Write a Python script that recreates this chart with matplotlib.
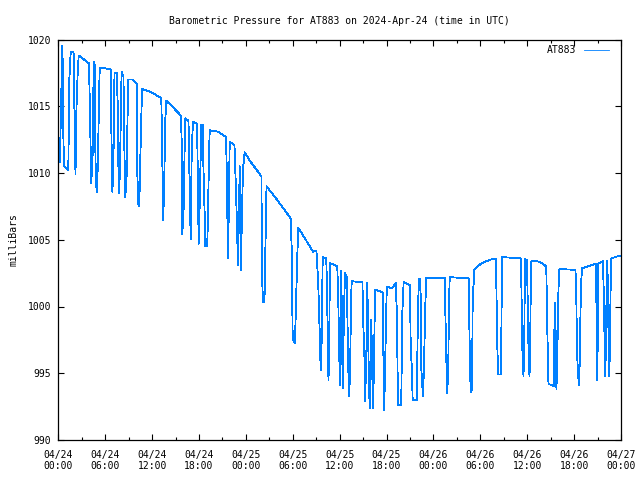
import matplotlib
matplotlib.use('Agg')
import matplotlib.pyplot as plt
from matplotlib.ticker import MultipleLocator, FixedLocator

# hours since 2024-04-24 00:00 UTC
hours = [
    0.22, 0.28, 0.43, 0.51, 0.60, 0.64, 0.73, 1.28, 1.32, 1.41, 1.59, 1.92,
    1.98, 2.07, 2.20, 2.30, 2.46, 2.61, 3.29, 3.93,
    4.00, 4.15, 4.22, 4.40, 4.48, 4.57, 4.64,
    4.75, 4.81, 4.95, 5.08, 5.21, 5.30, 5.97, 6.74,
    6.79, 6.91, 7.04, 7.10, 7.19, 7.47,
    7.60, 7.73, 7.89, 8.02, 8.10, 8.34,
    8.43, 8.57, 8.73, 8.83, 8.94, 9.52, 10.03,
    10.11, 10.24, 10.36, 10.49, 10.71, 11.73, 12.37, 13.18,
    13.31, 13.40, 13.52, 13.61, 13.69, 13.82, 14.55, 15.19, 15.70,
    15.79, 15.86, 16.04, 16.17, 16.25, 16.66,
    16.72, 16.94, 17.07, 17.23, 17.75,
    17.81, 17.96, 18.07, 18.22, 18.30, 18.47,
    18.54, 18.73, 18.81, 19.06, 19.15, 19.28, 19.37, 20.43, 21.46,
    21.55, 21.71, 21.80, 21.93, 22.54,
    22.65, 22.82, 22.99, 23.12, 23.21, 23.29, 23.35, 23.50, 23.63, 23.85, 24.53, 25.17, 25.87,
    26.00, 26.04, 26.19, 26.38, 26.45, 26.64, 27.73, 28.75, 29.73,
    29.86, 29.99, 30.28, 30.41, 30.58, 30.71, 31.56, 32.59, 33.03,
    33.26, 33.48, 33.57, 33.70, 33.78, 33.83, 34.29,
    34.38, 34.51, 34.57, 34.66, 34.72, 34.79, 35.70,
    35.82, 35.95, 36.04, 36.13, 36.21, 36.30, 36.39, 36.46, 36.59, 36.68, 36.90,
    36.97, 37.10, 37.23, 37.36, 37.45, 37.54, 38.92,
    38.98, 39.20, 39.24, 39.41, 39.47, 39.53,
    39.62, 39.71, 39.84, 39.92, 40.05, 40.17, 40.26, 40.39, 40.48, 40.56, 41.38, 41.54,
    41.59, 41.70, 41.80, 41.96, 42.03, 42.69, 43.17,
    43.33, 43.46, 43.88, 44.01, 44.19, 45.00,
    45.09, 45.25, 45.34, 45.85, 45.92, 46.02, 46.15, 46.34,
    46.44, 46.66, 46.79, 46.95, 47.08, 49.45,
    49.51, 49.67, 49.77, 49.90, 49.99, 50.08, 52.54,
    52.61, 52.76, 52.89, 52.97, 53.02, 53.25, 54.17, 55.23, 56.00,
    56.06, 56.17, 56.29, 56.60, 56.68, 56.74, 56.81, 59.20,
    59.26, 59.36, 59.52, 59.62, 59.71, 59.97, 60.03, 60.16, 60.29, 60.38, 60.45, 60.54, 61.63, 62.44,
    62.56, 62.72, 63.42, 63.51, 63.64, 63.74, 63.87, 64.00, 64.12, 66.17,
    66.27, 66.36, 66.49, 66.66, 66.75, 66.87, 67.00, 68.76,
    68.83, 68.90, 68.96, 69.05, 69.11, 69.69,
    69.78, 69.91, 69.98, 70.07, 70.16, 70.24, 70.33, 70.42, 70.50, 70.58, 70.67, 70.75, 71.23, 71.87,
]

mbar = [
    1010.85, 1013.0, 1017.3, 1019.5, 1017.3, 1013.0, 1010.5, 1010.2, 1012.5, 1017.0, 1019.1, 1019.1,
    1018.9, 1014.4, 1009.9, 1014.4, 1017.2, 1018.8, 1018.5, 1018.2,
    1016.1, 1011.5, 1009.25, 1011.5, 1016.1, 1018.35, 1018.3,
    1011.5, 1009.25, 1008.6, 1011.2, 1015.6, 1017.9, 1017.85, 1017.75,
    1013.2, 1008.6, 1010.1, 1013.2, 1017.5, 1017.5,
    1015.2, 1008.5, 1010.0, 1015.2, 1017.6, 1017.2,
    1012.6, 1008.2, 1009.5, 1013.0, 1017.0, 1017.0, 1016.7,
    1010.0, 1007.7, 1007.5, 1011.0, 1016.3, 1016.1, 1015.9, 1015.6,
    1011.1, 1006.5, 1008.1, 1011.0, 1014.0, 1015.4, 1015.0, 1014.6, 1014.3,
    1012.2, 1005.4, 1007.4, 1012.0, 1014.1, 1013.9,
    1011.65, 1005.05, 1011.65, 1013.85, 1013.7,
    1011.5, 1004.7, 1007.1, 1011.4, 1013.6, 1013.6,
    1011.1, 1006.85, 1004.55, 1004.55, 1006.85, 1011.1, 1013.2, 1013.1, 1012.7,
    1010.35, 1003.65, 1006.7, 1012.35, 1012.1,
    1010.2, 1007.0, 1003.1, 1007.0, 1010.5, 1007.0, 1002.7, 1006.6, 1010.3, 1011.55, 1010.9, 1010.4, 1009.85,
    1009.7, 1002.7, 1000.35, 1000.35, 1002.7, 1009.0, 1008.2, 1007.4, 1006.6,
    1004.4, 997.6, 997.25, 1000.0, 1003.8, 1005.9, 1005.1, 1004.1, 1004.2,
    1001.75, 997.4, 995.25, 997.4, 1001.75, 1003.7, 1003.6,
    1001.25, 996.75, 994.5, 996.75, 1001.0, 1003.25, 1003.0,
    1000.6, 996.4, 994.1, 998.4, 1002.7, 998.4, 993.9, 996.5, 1000.35, 1002.5, 1002.2,
    1000.0, 995.4, 993.25, 996.0, 1000.3, 1001.9, 1001.8,
    999.5, 995.75, 992.9, 995.75, 999.5, 1001.8,
    999.25, 995.4, 992.4, 995.4, 999.0, 995.25, 992.4, 995.25, 999.3, 1001.25, 1001.1, 1001.0,
    996.75, 992.25, 995.0, 999.6, 1001.5, 1001.35, 1001.75,
    999.4, 992.6, 992.6, 999.4, 1001.85, 1001.6,
    997.0, 995.25, 993.0, 993.0, 995.25, 999.75, 1002.1, 1002.1,
    995.4, 993.25, 995.4, 999.85, 1002.15, 1002.15,
    1000.0, 995.6, 993.5, 995.6, 1000.0, 1002.2, 1002.1,
    997.9, 993.6, 993.7, 996.0, 1000.5, 1002.8, 1003.25, 1003.5, 1003.6,
    1001.35, 997.05, 994.9, 994.9, 997.05, 1001.35, 1003.7, 1003.6,
    1001.35, 997.05, 994.8, 997.05, 1003.55, 1003.5, 1001.3, 997.0, 994.75, 997.0, 1001.3, 1003.45, 1003.35, 1003.0,
    998.6, 994.2, 994.05, 1000.3, 998.0, 993.8, 997.0, 1001.3, 1002.8, 1002.75,
    1001.35, 997.0, 994.9, 994.1, 997.0, 1001.3, 1002.85, 1003.2,
    1001.0, 998.85, 994.5, 998.85, 1003.2, 1003.4,
    1001.3, 997.0, 994.75, 997.0, 1001.3, 1003.4, 1001.3, 997.0, 994.75, 997.0, 1001.3, 1003.6, 1003.7, 1003.8,
]

tick_hours = [0, 6, 12, 18, 24, 30, 36, 42, 48, 54, 60, 66, 72]
tick_dates = ['04/24', '04/24', '04/24', '04/24', '04/25', '04/25', '04/25',
              '04/25', '04/26', '04/26', '04/26', '04/26', '04/27']
tick_times = ['00:00', '06:00', '12:00', '18:00', '00:00', '06:00', '12:00',
              '18:00', '00:00', '06:00', '12:00', '18:00', '00:00']
y_ticks = [990, 995, 1000, 1005, 1010, 1015, 1020]

plt.rcParams['font.family'] = 'DejaVu Sans Mono'
plt.rcParams['font.size'] = 7

fig = plt.figure(figsize=(6.4, 4.8), dpi=100)
ax = fig.add_axes([58.3 / 640, 40 / 480, (621 - 58.3) / 640, (440 - 39.5) / 480])

ax.plot(hours, mbar, color='#0080ff', linewidth=0.6, label='AT883', antialiased=False)

ax.set_xlim(0, 72)
ax.set_ylim(990, 1020)
ax.xaxis.set_major_locator(FixedLocator(tick_hours))
ax.xaxis.set_minor_locator(MultipleLocator(3))
ax.set_xticklabels([f'{d}\n{t}' for d, t in zip(tick_dates, tick_times)])
ax.set_yticks(y_ticks)
ax.tick_params(which='both', direction='in', top=True, right=True, width=0.8, color='black')
ax.tick_params(which='major', length=4, pad=7)
ax.tick_params(which='minor', length=2)
ax.tick_params(axis='y', pad=5)
for s in ax.spines.values():
    s.set_linewidth(0.9)

ax.set_ylabel('milliBars', labelpad=7)
ax.set_title('Barometric Pressure for AT883 on 2024-Apr-24 (time in UTC)', fontsize=7, pad=11)
ax.legend(loc='upper right', bbox_to_anchor=(1.0, 1.015), frameon=False, markerfirst=False,
          handlelength=2.6, borderaxespad=0.8, handletextpad=0.8)

fig.savefig('out.png', dpi=100)
